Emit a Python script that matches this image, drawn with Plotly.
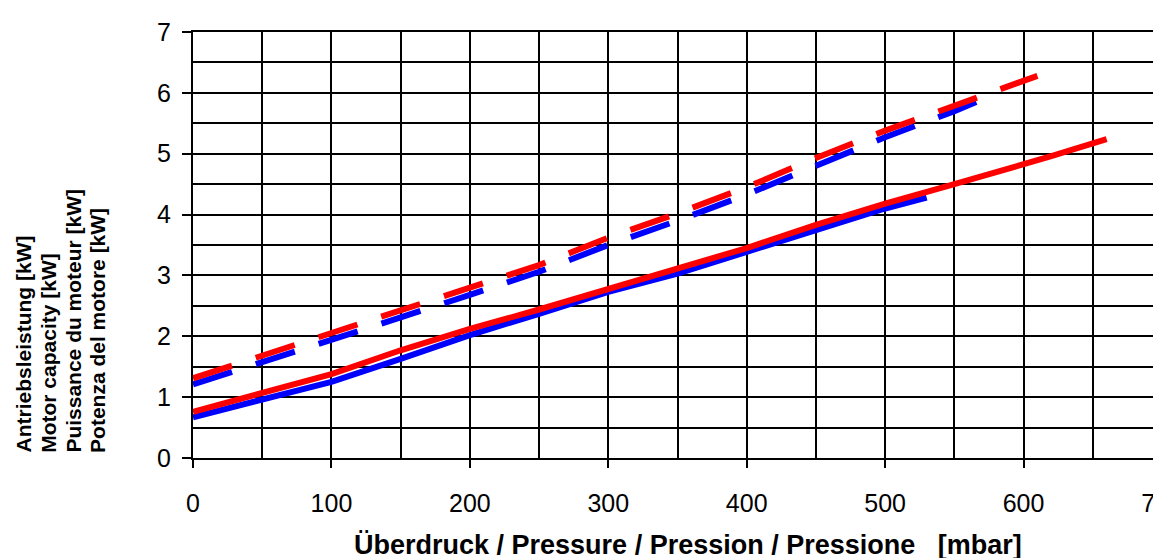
import plotly.graph_objects as go

# Data (pressure [mbar] -> motor power [kW])
x_blue_solid = [0, 50, 100, 150, 200, 250, 300, 350, 400, 450, 500, 530]
y_blue_solid = [0.67, 0.95, 1.25, 1.63, 2.02, 2.37, 2.73, 3.03, 3.38, 3.75, 4.10, 4.28]

x_red_solid = [0, 50, 100, 150, 200, 250, 300, 350, 400, 450, 500, 550, 600, 620, 660]
y_red_solid = [0.76, 1.08, 1.38, 1.77, 2.12, 2.44, 2.78, 3.10, 3.45, 3.83, 4.18, 4.50, 4.82, 4.96, 5.24]

x_blue_dash = [0, 50, 100, 150, 200, 250, 300, 350, 400, 450, 500, 550, 574]
y_blue_dash = [1.21, 1.57, 1.94, 2.31, 2.68, 3.06, 3.50, 3.90, 4.33, 4.80, 5.27, 5.70, 5.93]

x_red_dash = [0, 50, 100, 150, 200, 250, 300, 350, 400, 450, 500, 550, 610]
y_red_dash = [1.31, 1.68, 2.05, 2.41, 2.79, 3.17, 3.62, 4.02, 4.45, 4.93, 5.38, 5.80, 6.28]

x_ticks = [0, 100, 200, 300, 400, 500, 600, 700]
y_ticks = [0, 1, 2, 3, 4, 5, 6, 7]

x_title = "<b>Überdruck / Pressure / Pression / Pressione&nbsp;&nbsp;&nbsp;[mbar]</b>"
y_title_lines = ["Antriebsleistung [kW]", "Motor capacity [kW]",
                 "Puissance du moteur [kW]", "Potenza del motore [kW]"]

BLUE = "#0000FF"
RED = "#FF0000"
FONT = "Arial, Liberation Sans, sans-serif"
DASH = "41px,25px"

fig = go.Figure()
fig.add_trace(go.Scatter(x=x_blue_solid, y=y_blue_solid, mode="lines",
                         line=dict(color=BLUE, width=6), showlegend=False))
fig.add_trace(go.Scatter(x=x_blue_dash, y=y_blue_dash, mode="lines",
                         line=dict(color=BLUE, width=6, dash=DASH), showlegend=False))
fig.add_trace(go.Scatter(x=x_red_solid, y=y_red_solid, mode="lines",
                         line=dict(color=RED, width=6), showlegend=False))
fig.add_trace(go.Scatter(x=x_red_dash, y=y_red_dash, mode="lines",
                         line=dict(color=RED, width=6, dash=DASH), showlegend=False))

OFF = 8  # page body margin
W, H = 1161, 558
L = 193 - OFF
T = 32 - OFF
B = H - (458 - OFF)
R = W - (1162 - OFF)
pw, ph = W - L - R, H - T - B

def px_to_paper_x(px):
    return (px - OFF - L) / pw

def px_to_paper_y(py):
    return (H - B - (py - OFF)) / ph

annotations = [dict(text=x_title, xref="paper", yref="paper",
                    x=px_to_paper_x(688), y=px_to_paper_y(545),
                    xanchor="center", yanchor="middle", showarrow=False,
                    font=dict(family=FONT, size=27, color="black"))]
for i, line in enumerate(y_title_lines):
    annotations.append(dict(text="<b>" + line + "</b>", xref="paper", yref="paper",
                            x=px_to_paper_x(23 + 24.8 * i), y=px_to_paper_y(455),
                            xanchor="center", yanchor="bottom", textangle=-90,
                            showarrow=False,
                            font=dict(family=FONT, size=21, color="black")))

fig.update_layout(
    width=W, height=H,
    margin=dict(l=L, r=R, t=T, b=B, pad=0),
    paper_bgcolor="white", plot_bgcolor="white",
    font=dict(family=FONT, color="black"),
    annotations=annotations,
    xaxis=dict(range=[0, 700], tickvals=x_ticks, ticktext=[str(v) for v in x_ticks],
               showgrid=True, gridcolor="black", gridwidth=2,
               minor=dict(dtick=50, tick0=0, showgrid=True, gridcolor="black", gridwidth=1.5),
               showline=True, linecolor="black", linewidth=2, mirror=True,
               ticks="outside", ticklen=8, tickwidth=2, tickcolor="black",
               ticklabelstandoff=14, ticklabeloverflow="allow",
               tickfont=dict(family=FONT, size=25, color="black"),
               zeroline=False, automargin=False, fixedrange=True),
    yaxis=dict(range=[0, 7], tickvals=y_ticks, ticktext=[str(v) for v in y_ticks],
               showgrid=True, gridcolor="black", gridwidth=2,
               minor=dict(dtick=0.5, tick0=0, showgrid=True, gridcolor="black", gridwidth=1.5),
               showline=True, linecolor="black", linewidth=2,
               ticks="outside", ticklen=9, tickwidth=2, tickcolor="black",
               ticklabelstandoff=6,
               tickfont=dict(family=FONT, size=25, color="black"),
               zeroline=False, automargin=False, fixedrange=True),
)

fig.write_html("out.html")
